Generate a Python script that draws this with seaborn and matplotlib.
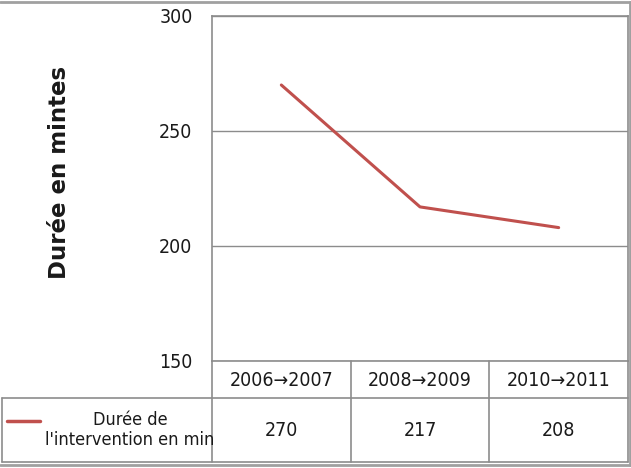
import numpy as np
import matplotlib
matplotlib.use("Agg")
import matplotlib.pyplot as plt
import seaborn as sns
import pandas as pd

periods = ['2006\u21922007', '2008\u21922009', '2010\u21922011']
durations = [270, 217, 208]
series_name = "Durée de\nl'intervention en min"
y_ticks = [150, 200, 250, 300]
y_label = 'Durée en mintes'
line_color = '#C0504D'

sns.set_theme(style='white')
plt.rcParams['font.family'] = ['DejaVu Sans']
plt.rcParams['font.stretch'] = 'condensed'
plt.rcParams['text.color'] = '#1a1a1a'

df = pd.DataFrame({'period': np.arange(len(periods)), 'duration': durations})

W, H = 631, 468
fig = plt.figure(figsize=(W / 100, H / 100), dpi=100)

# plot area in pixel coordinates
x0, x1 = 212, 628
ytop, ybot = 16, 361
ax = fig.add_axes([x0 / W, 1 - ybot / H, (x1 - x0) / W, (ybot - ytop) / H])

sns.lineplot(data=df, x='period', y='duration', color=line_color, linewidth=2.2, ax=ax)
ax.set_xlim(-0.5, len(periods) - 0.5)
ax.set_ylim(150, 300)
ax.set_yticks(y_ticks)
ax.set_xticks([])
ax.set_xlabel('')
ax.set_ylabel('')
ax.grid(axis='y', color='#8c8c8c', linewidth=1)
for s in ax.spines.values():
    s.set_color('#8c8c8c')
    s.set_linewidth(1.2)
ax.tick_params(axis='y', labelsize=14, length=0, pad=14, labelcolor='#1a1a1a')
for lbl in ax.get_yticklabels():
    lbl.set_verticalalignment('center_baseline')

fig.text(60 / W, 1 - 172 / H, y_label, rotation=90, ha='center', va='center',
         fontsize=16.5, fontweight='bold', stretch='normal', family='DejaVu Sans')

# data table under the plot
def px(x, y):
    return x / W, 1 - y / H

tcol = '#8c8c8c'
row1_top, row1_bot, row2_bot = 361, 398, 462
col_w = (x1 - x0) / len(periods)
line_kw = dict(color=tcol, linewidth=1.2, transform=fig.transFigure)
fig.add_artist(plt.Line2D([x0 / W, x0 / W], [1 - row1_top / H, 1 - row2_bot / H], **line_kw))
fig.add_artist(plt.Line2D([2 / W, x1 / W], [1 - row1_bot / H, 1 - row1_bot / H], **line_kw))
fig.add_artist(plt.Line2D([2 / W, x1 / W], [1 - row2_bot / H, 1 - row2_bot / H], **line_kw))
fig.add_artist(plt.Line2D([2 / W, 2 / W], [1 - row1_bot / H, 1 - row2_bot / H], **line_kw))
fig.add_artist(plt.Line2D([x1 / W, x1 / W], [1 - row1_top / H, 1 - row2_bot / H], **line_kw))
for i in range(1, len(periods)):
    xx = (x0 + i * col_w) / W
    fig.add_artist(plt.Line2D([xx, xx], [1 - row1_top / H, 1 - row2_bot / H], **line_kw))

for i, (p, v) in enumerate(zip(periods, durations)):
    cx = x0 + (i + 0.5) * col_w
    fig.text(*px(cx, (row1_top + row1_bot) / 2 + 1), p, ha='center', va='center', fontsize=14)
    fig.text(*px(cx, (row1_bot + row2_bot) / 2), str(v), ha='center', va='center', fontsize=14)

fig.add_artist(plt.Line2D([7 / W, 40 / W], [1 - 421 / H, 1 - 421 / H], color=line_color,
                          linewidth=2.5, transform=fig.transFigure))
fig.text(*px(130, 430), series_name, ha='center', va='center', fontsize=13, linespacing=1.15)

# outer frame: top, right and bottom edges
frame_kw = dict(color='#a0a0a0', linewidth=2, transform=fig.transFigure)
fig.add_artist(plt.Line2D([0, 1], [1 - 2 / H, 1 - 2 / H], **frame_kw))
fig.add_artist(plt.Line2D([1 - 1.5 / W, 1 - 1.5 / W], [1 - 465 / H, 1 - 2 / H], **frame_kw))
fig.add_artist(plt.Line2D([0, 1], [1 - 465 / H, 1 - 465 / H], **frame_kw))

fig.savefig('out.png', dpi=100)
